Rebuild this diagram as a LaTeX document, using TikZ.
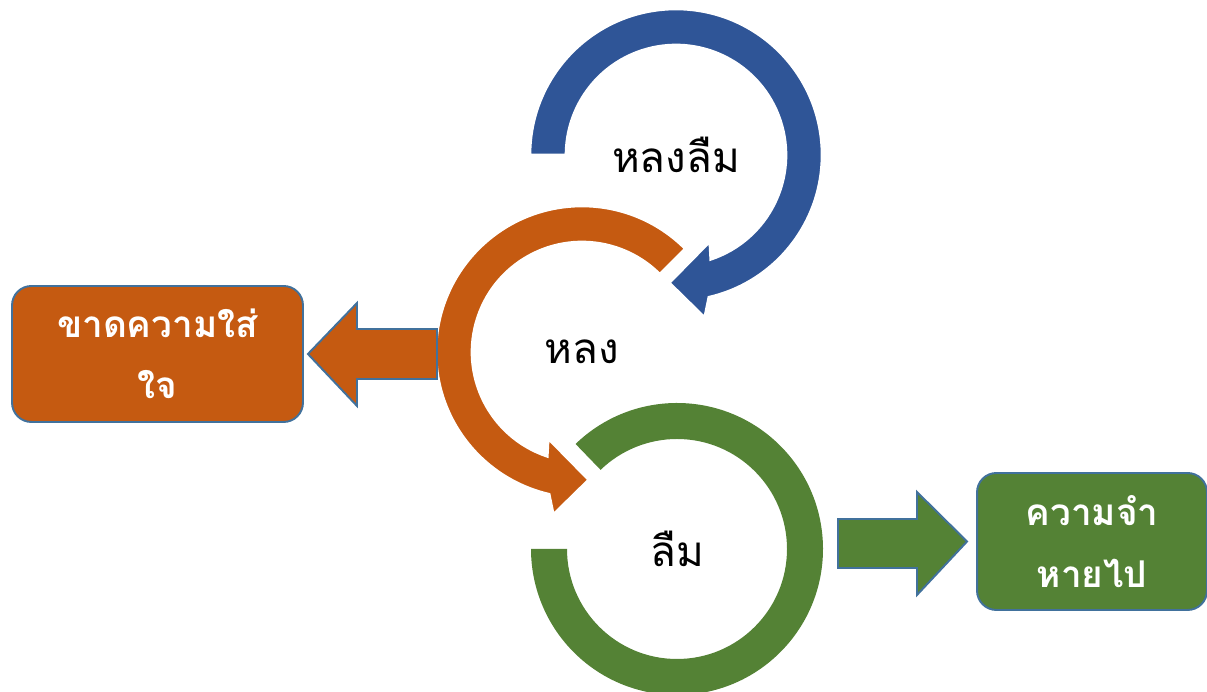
\documentclass[tikz,border=0pt]{standalone}
\usepackage{fontspec}
\newfontfamily\thaifont[Script=Thai]{Loma}
\usepackage{tikz}
\usetikzlibrary{positioning}

\definecolor{ringblue}{HTML}{2F5597}
\definecolor{ringorange}{HTML}{C55A11}
\definecolor{ringgreen}{HTML}{548235}
\definecolor{edgeblue}{HTML}{41719C}

\begin{document}
\begin{tikzpicture}[
        x=0.02cm, y=0.02cm,
        ring/.style={draw=white, line width=1.5pt},
        ringtext/.style={font=\thaifont\fontsize{24}{28}\selectfont, text=black},
        box/.style={rectangle, rounded corners=11pt, draw=edgeblue, line width=1.1pt, text=white, align=center, font=\thaifont\bfseries\fontsize{21}{35}\selectfont},
        blockarrow/.style={draw=edgeblue, line width=1.1pt, line join=miter}
    ]
    \useasboundingbox (0,0) rectangle (1207,692);

    \coordinate (bluec) at (676,537);
    \coordinate (orangec) at (582,340);
    \coordinate (greenc) at (677,143);

    % green ring (no head)
    \begin{scope}[shift={(greenc)}]
        \fill[ringgreen] (134:146) arc[start angle=134, end angle=-180, radius=146]
            -- (180:110) arc[start angle=-180, end angle=134, radius=110] -- cycle;
    \end{scope}

    % orange ring
    \begin{scope}[shift={(orangec)}]
        \path[ring, fill=ringorange] (45:146) arc[start angle=45, end angle=257, radius=146]
            -- (260:165) -- (273:128) -- (248.7:93) -- (251.6:110)
            arc[start angle=251.6, end angle=45, radius=110] -- cycle;
    \end{scope}

    % blue ring
    \begin{scope}[shift={(bluec)}]
        \path[ring, fill=ringblue] (180:146) arc[start angle=180, end angle=-77, radius=146]
            -- (-80:165) -- (-93:128) -- (-68.7:93) -- (-71.6:110)
            arc[start angle=-71.6, end angle=180, radius=110] -- cycle;
    \end{scope}

    \node (forget2) [ringtext] at (bluec) {หลงลืม};
    \node (astray) [ringtext] at (orangec) {หลง};
    \node (forget) [ringtext] at (greenc) {ลืม};

    \node (careless) [box, fill=ringorange, minimum width=5.82cm, minimum height=2.72cm] at (157.5,338) {ขาดความใส่\\ใจ};
    \node (memloss) [box, fill=ringgreen, minimum width=4.6cm, minimum height=2.74cm] at (1092,150.5) {ความจำ\\หายไป};

    % block arrows
    \draw[blockarrow, fill=ringorange] (437,363) -- (357,363) -- (357,389) -- ([xshift=0.08cm]careless.east) -- (357,286) -- (357,313) -- (437,313) -- cycle;
    \draw[blockarrow, fill=ringgreen] (838,173) -- (917,173) -- (917,200) -- ([xshift=-0.18cm]memloss.west) -- (917,97) -- (917,124) -- (838,124) -- cycle;
\end{tikzpicture}
\end{document}
